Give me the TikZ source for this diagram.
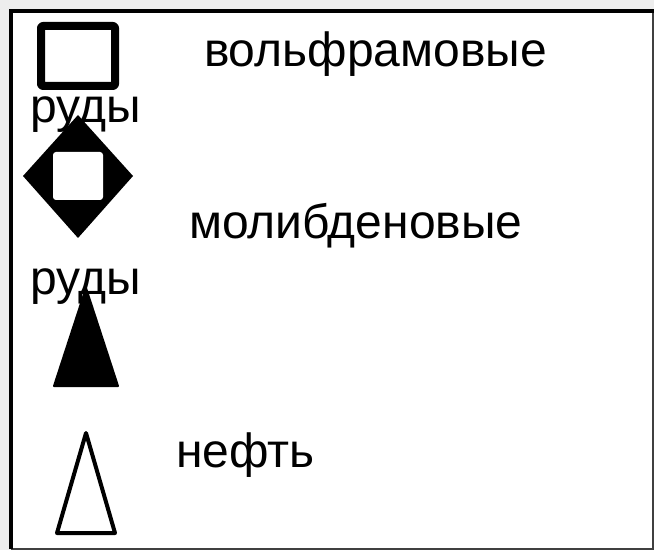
\documentclass[tikz,border=0pt]{standalone}
\usepackage{fontspec}
\setmainfont{Liberation Sans}
\begin{document}
\begin{tikzpicture}[x=1bp,y=-1bp,
  lbl/.style={anchor=base west,inner sep=0pt,outer sep=0pt,font=\fontsize{48bp}{50bp}\selectfont},
  sym/.style={line join=round,line cap=round}]
\useasboundingbox (0,0) rectangle (654,550);
\fill[gray!14] (0,0) rectangle (654,550);
\fill[white] (11,11) rectangle (653,549);
\draw[line width=2bp,black!75] (653,11) -- (653,548.7) -- (11,548.7);
\draw[line width=4bp] (11,549) -- (11,11) -- (654,11);
% labels
\node[lbl] (t1) at (204,66.7) {вольфрамовые};
\node[lbl] (r1) at (30,123) {руды};
\node[lbl] (t2) at (189,238.3) {молибденовые};
\node[lbl] (r2) at (30,294) {руды};
\node[lbl] (t3) at (176,467.7) {нефть};
% tungsten: open square
\draw[sym,line width=8bp,rounded corners=2bp] (41,26) rectangle (115,86);
% molybdenum: diamond with white square
\fill[sym] (78,115) -- (133,176) -- (78,238) -- (23,176) -- cycle;
\fill[white,rounded corners=3bp] (53,152) rectangle (103,200);
% filled triangle
\filldraw[sym,line width=2bp] (86,288) -- (118,386) -- (54,386) -- cycle;
% oil: open triangle
\draw[sym,line width=4bp] (86,433) -- (115,533) -- (57,533) -- cycle;
\end{tikzpicture}
\end{document}
